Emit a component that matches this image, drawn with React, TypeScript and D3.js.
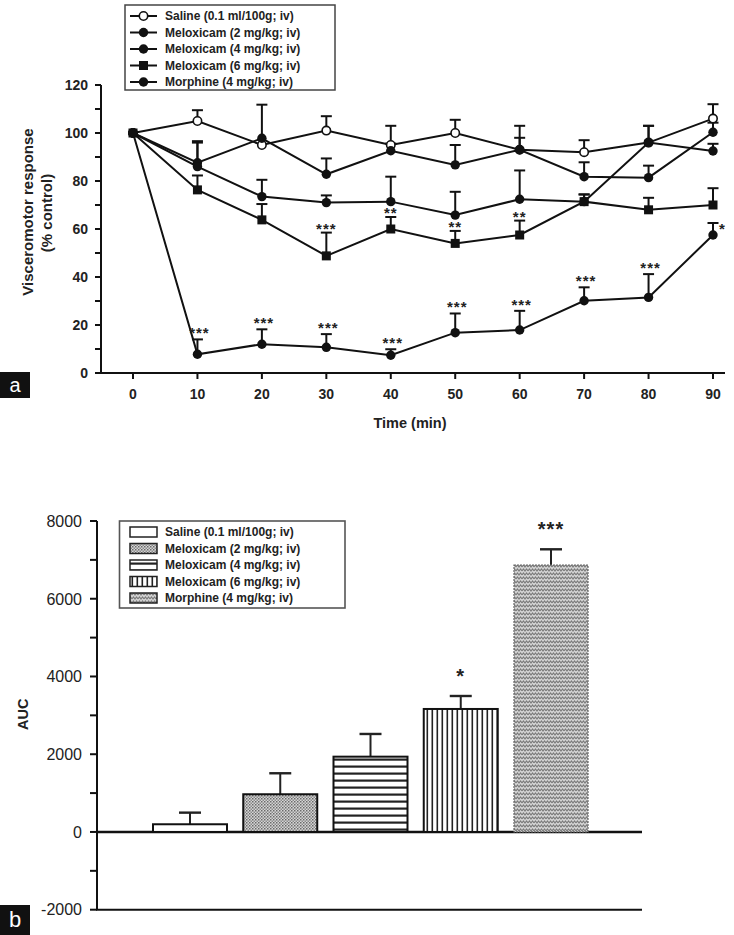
import React from "react";
import * as d3 from "d3";

// ---------- Panel a data ----------
const times = [0, 10, 20, 30, 40, 50, 60, 70, 80, 90];
const salineVals = [100, 105, 95, 101, 95, 100, 93, 92, 96, 106];
const salineErr = [0, 4.5, 0, 6, 8, 5.5, 5, 5, 7, 6];
const mel2Vals = [100, 87.6, 97.8, 82.8, 92.6, 86.7, 93, 81.8, 81.4, 100.3];
const mel2Err = [0, 9, 14, 6.6, 3, 8.3, 10, 6, 5, 4];
const mel4Vals = [100, 86, 73.5, 71, 71.4, 65.8, 72.4, 71.4, 96, 92.5];
const mel4Err = [0, 10, 7, 3, 10.4, 9.7, 12, 3, 7, 3];
const mel6Vals = [100, 76.3, 63.8, 48.8, 60, 54, 57.5, 71.4, 68, 70];
const mel6Err = [0, 6, 6.6, 9.7, 5, 5.2, 6, 3, 5, 7];
const morphineVals = [100, 7.8, 12, 10.7, 7.4, 16.8, 17.9, 30.1, 31.5, 57.5];
const morphineErr = [0, 6.2, 6.2, 5.5, 2.5, 8, 8, 5.6, 9.7, 5];
const mel6Sig = ["", "", "", "***", "**", "**", "**", "", "", ""];
const morphineSig = ["", "***", "***", "***", "***", "***", "***", "***", "***", "*"];
const yTicksA = [0, 20, 40, 60, 80, 100, 120];
const yMinorA = [10, 30, 50, 70, 90, 110];

const legendA = [
  "Saline (0.1 ml/100g; iv)",
  "Meloxicam (2 mg/kg; iv)",
  "Meloxicam (4 mg/kg; iv)",
  "Meloxicam (6 mg/kg; iv)",
  "Morphine (4 mg/kg; iv)",
];
const markersA = ["open", "circle", "circle", "square", "circle"];

// ---------- Panel b data ----------
const groupsB = [
  "Saline (0.1 ml/100g; iv)",
  "Meloxicam (2 mg/kg; iv)",
  "Meloxicam (4 mg/kg; iv)",
  "Meloxicam (6 mg/kg; iv)",
  "Morphine (4 mg/kg; iv)",
];
const aucVals = [198, 970, 1937, 3164, 6868];
const aucErr = [299, 540, 584, 334, 404];
const aucSig = ["", "", "", "*", "***"];
const yTicksB = [-2000, 0, 2000, 4000, 6000, 8000];
const yMinorB = [-1000, 1000, 3000, 5000, 7000];
const patternsB = ["none", "dots", "hstripes", "vstripes", "zigzag"];

const FONT = "Arial, 'Liberation Sans', Helvetica, sans-serif";

function Marker({ type, x, y }: { type: string; x: number; y: number }) {
  if (type === "square")
    return <rect x={x - 4.5} y={y - 4.5} width={9} height={9} fill="#111" />;
  if (type === "open")
    return <circle cx={x} cy={y} r={4.2} fill="#fff" stroke="#111" strokeWidth={1.6} />;
  return <circle cx={x} cy={y} r={4.7} fill="#111" />;
}

export default function App() {
  const xA = d3.scaleLinear().domain([0, 90]).range([133, 713]);
  const yA = d3.scaleLinear().domain([0, 120]).range([373, 85]);
  const lineA = d3
    .line<number>()
    .x((_, i) => xA(times[i]))
    .y((d) => yA(d));

  const seriesA = [
    { vals: salineVals, err: salineErr, marker: "open" },
    { vals: mel2Vals, err: mel2Err, marker: "circle" },
    { vals: mel4Vals, err: mel4Err, marker: "circle" },
    { vals: mel6Vals, err: mel6Err, marker: "square" },
    { vals: morphineVals, err: morphineErr, marker: "circle" },
  ];

  const xB = d3.scaleBand<string>().domain(groupsB).range([153, 588]).paddingInner(0.18).paddingOuter(0);
  const yB = d3.scaleLinear().domain([-2000, 8000]).range([909.7, 521]);

  const axisColor = "#111";

  return (
    <svg
      width={734}
      height={935}
      style={{ position: "absolute", left: 0, top: 0, background: "#fff" }}
      fontFamily={FONT}
    >
      <defs>
        <pattern id="dots" width={3} height={3} patternUnits="userSpaceOnUse">
          <rect width={3} height={3} fill="#d6d6d6" />
          <rect x={0} y={0} width={1.5} height={1.5} fill="#6a6a6a" />
          <rect x={1.5} y={1.5} width={1.5} height={1.5} fill="#8a8a8a" />
        </pattern>
        <pattern id="hstripes" width={8} height={7} patternUnits="userSpaceOnUse">
          <rect width={8} height={7} fill="#fff" />
          <rect x={0} y={2.5} width={8} height={2.2} fill="#222" />
        </pattern>
        <pattern id="vstripes" width={5} height={8} patternUnits="userSpaceOnUse">
          <rect width={5} height={8} fill="#fff" />
          <rect x={1.5} y={0} width={1.6} height={8} fill="#222" />
        </pattern>
        <pattern id="zigzag" width={6} height={4} patternUnits="userSpaceOnUse">
          <rect width={6} height={4} fill="#d4d4d4" />
          <path d="M0,3 L1.5,1 L3,3 L4.5,1 L6,3" stroke="#7a7a7a" strokeWidth={1.1} fill="none" />
        </pattern>
      </defs>

      {/* ================= Panel a ================= */}
      <line x1={101} x2={101} y1={85} y2={373} stroke={axisColor} strokeWidth={2} />
      <line x1={100} x2={725} y1={373} y2={373} stroke={axisColor} strokeWidth={2} />
      {yTicksA.concat(yMinorA).map((t) => (
        <line key={"yt" + t} x1={95} x2={101} y1={yA(t)} y2={yA(t)} stroke={axisColor} strokeWidth={2} />
      ))}
      {yTicksA.map((t) => (
        <text
          key={"yl" + t}
          x={88}
          y={yA(t)}
          dy="0.36em"
          textAnchor="end"
          fontSize={14}
          fontWeight="bold"
          fill="#222"
        >
          {t}
        </text>
      ))}
      {times.map((t) => (
        <g key={"xt" + t}>
          <line x1={xA(t)} x2={xA(t)} y1={373} y2={379} stroke={axisColor} strokeWidth={2} />
          <text x={xA(t)} y={399} textAnchor="middle" fontSize={14} fontWeight="bold" fill="#222">
            {t}
          </text>
        </g>
      ))}
      <text x={410} y={428} textAnchor="middle" fontSize={14.5} fontWeight="bold" fill="#222">
        Time (min)
      </text>
      <text
        transform="translate(32.5,212) rotate(-90)"
        textAnchor="middle"
        fontSize={15}
        fontWeight="bold"
        fill="#222"
      >
        Visceromotor response
      </text>
      <text
        transform="translate(51.5,213) rotate(-90)"
        textAnchor="middle"
        fontSize={15}
        fontWeight="bold"
        fill="#222"
      >
        (% control)
      </text>

      {seriesA.map((s, si) =>
        s.vals.map((v, i) =>
          s.err[i] > 0 ? (
            <g key={`e${si}-${i}`} stroke="#111" strokeWidth={2}>
              <line x1={xA(times[i])} x2={xA(times[i])} y1={yA(v)} y2={yA(v + s.err[i])} />
              <line x1={xA(times[i]) - 5.5} x2={xA(times[i]) + 5.5} y1={yA(v + s.err[i])} y2={yA(v + s.err[i])} />
            </g>
          ) : null
        )
      )}
      {seriesA.map((s, si) => (
        <path key={"l" + si} d={lineA(s.vals) || ""} fill="none" stroke="#111" strokeWidth={2} />
      ))}
      {seriesA.map((s, si) =>
        s.vals.map((v, i) => <Marker key={`m${si}-${i}`} type={s.marker} x={xA(times[i])} y={yA(v)} />)
      )}
      {mel6Sig.map((sig, i) =>
        sig ? (
          <text
            key={"s6" + i}
            x={xA(times[i])}
            y={yA(mel6Vals[i] + mel6Err[i]) + 1}
            textAnchor="middle"
            fontSize={15}
            letterSpacing={1}
            fontWeight="bold"
            fill="#222"
          >
            {sig}
          </text>
        ) : null
      )}
      {morphineSig.map((sig, i) =>
        sig ? (
          <text
            key={"sm" + i}
            x={sig === "*" ? xA(times[i]) + 6 : xA(times[i]) + 2}
            y={sig === "*" ? yA(morphineVals[i]) - 1 : yA(morphineVals[i] + morphineErr[i]) - 1}
            textAnchor={sig === "*" ? "start" : "middle"}
            fontSize={15}
            letterSpacing={1}
            fontWeight="bold"
            fill="#222"
          >
            {sig}
          </text>
        ) : null
      )}

      <rect x={125} y={5} width={210} height={85} fill="#fff" stroke="#444" strokeWidth={1.5} />
      {legendA.map((name, i) => {
        const ly = 16 + i * 16.5;
        return (
          <g key={"la" + i}>
            <line x1={130} x2={157} y1={ly} y2={ly} stroke="#111" strokeWidth={2} />
            <Marker type={markersA[i]} x={143.5} y={ly} />
            <text x={165} y={ly} dy="0.36em" fontSize={12} fontWeight="bold" fill="#222">
              {name}
            </text>
          </g>
        );
      })}

      <rect x={0} y={372} width={30} height={26} fill="#111" />
      <text x={15} y={392} textAnchor="middle" fontSize={20} fill="#fff">
        a
      </text>

      {/* ================= Panel b ================= */}
      <line x1={97} x2={97} y1={521} y2={910} stroke={axisColor} strokeWidth={2} />
      <line x1={96} x2={642} y1={yB(0)} y2={yB(0)} stroke={axisColor} strokeWidth={2.4} />
      <line x1={96} x2={642} y1={yB(-2000)} y2={yB(-2000)} stroke={axisColor} strokeWidth={2} />
      {yTicksB.concat(yMinorB).map((t) => (
        <line key={"ybt" + t} x1={90} x2={97} y1={yB(t)} y2={yB(t)} stroke={axisColor} strokeWidth={2} />
      ))}
      {yTicksB.map((t) => (
        <text key={"ybl" + t} x={82} y={yB(t)} dy="0.36em" textAnchor="end" fontSize={16} fill="#222">
          {t}
        </text>
      ))}
      <text
        transform={`translate(28,${yB(2000) - 40}) rotate(-90)`}
        textAnchor="middle"
        fontSize={14.5}
        fontWeight="bold"
        fill="#222"
      >
        AUC
      </text>

      {groupsB.map((g, i) => {
        const x0 = xB(g) as number;
        const bw = xB.bandwidth();
        const top = yB(aucVals[i]);
        const capY = yB(aucVals[i] + aucErr[i]);
        const cx = x0 + bw / 2;
        const fill = patternsB[i] === "none" ? "#fff" : `url(#${patternsB[i]})`;
        return (
          <g key={"b" + i}>
            <line x1={cx} x2={cx} y1={top} y2={capY} stroke="#222" strokeWidth={2} />
            <line x1={cx - 11} x2={cx + 11} y1={capY} y2={capY} stroke="#222" strokeWidth={2.4} />
            <rect
              x={x0}
              y={top}
              width={bw}
              height={yB(0) - top}
              fill={fill}
              stroke={i === 4 ? "#666" : "#111"}
              strokeWidth={i === 4 ? 1.2 : 2}
              strokeDasharray={i === 4 ? "2,1" : undefined}
            />
            {aucSig[i] ? (
              <text
                x={cx}
                y={capY - 13}
                textAnchor="middle"
                fontSize={20}
                letterSpacing={1}
                fontWeight="bold"
                fill="#222"
              >
                {aucSig[i]}
              </text>
            ) : null}
          </g>
        );
      })}

      <rect x={119.5} y={521} width={225.5} height={87} fill="#fff" stroke="#555" strokeWidth={1.6} />
      {groupsB.map((g, i) => {
        const ly = 532 + i * 16.5;
        const fill = patternsB[i] === "none" ? "#fff" : `url(#${patternsB[i]})`;
        return (
          <g key={"lb" + i}>
            <rect x={130} y={ly - 5} width={27} height={10} fill={fill} stroke="#222" strokeWidth={1.5} />
            <text x={165} y={ly} dy="0.36em" fontSize={12} fontWeight="bold" fill="#222">
              {g}
            </text>
          </g>
        );
      })}

      <rect x={0} y={905} width={30} height={30} fill="#111" />
      <text x={15} y={927} textAnchor="middle" fontSize={22} fill="#fff">
        b
      </text>
    </svg>
  );
}
